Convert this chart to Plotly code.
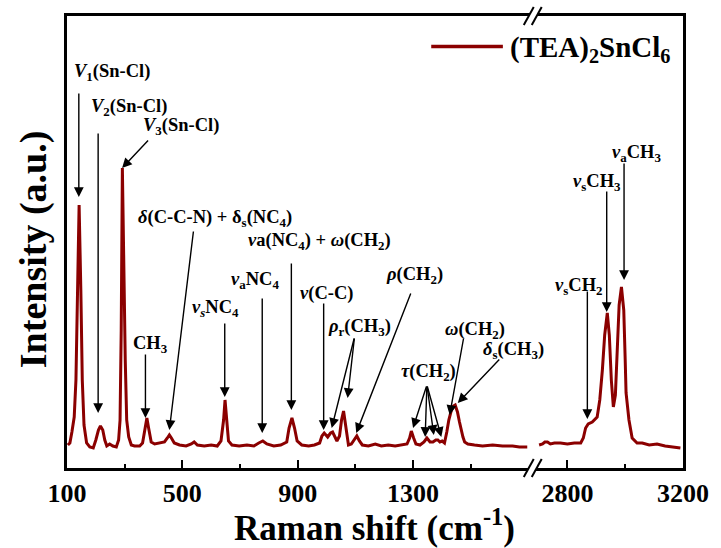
import plotly.graph_objects as go

# ---- data ----
# low-wavenumber segment (cm-1) and intensity (a.u.)
wn_low = [103, 110, 117, 125, 131, 136, 142, 148, 153, 159, 168, 179, 191, 200, 209, 216, 224, 231, 238, 248,
          259, 271, 279, 284, 288, 292, 296, 302, 307, 314, 323, 334, 352, 362, 371, 377, 383, 392, 404, 421,
          438, 448, 455, 462, 472, 490, 513, 531, 541, 552, 576, 600, 621, 634, 643, 648, 653, 660, 672, 697,
          724, 748, 765, 779, 793, 817, 841, 862, 870, 880, 889, 898, 914, 938, 958, 976, 984, 992, 1004, 1014,
          1021, 1029, 1036, 1045, 1052, 1059, 1066, 1076, 1086, 1097, 1105, 1114, 1124, 1145, 1169, 1190, 1214,
          1238, 1262, 1279, 1288, 1294, 1302, 1310, 1324, 1338, 1348, 1359, 1369, 1379, 1386, 1393, 1401, 1409,
          1417, 1424, 1433, 1440, 1446, 1454, 1461, 1467, 1473, 1479, 1490, 1513, 1541, 1576, 1610, 1645, 1669, 1696]
int_low = [23, 25, 36, 51, 88, 178, 263, 178, 88, 43, 25, 21, 20, 28, 38, 42, 38, 28, 22, 24,
           22, 21, 28, 48, 138, 300, 218, 108, 48, 31, 23, 22, 22, 25, 40, 50, 40, 26, 24, 25,
           26, 30, 33, 30, 25, 23, 22, 24, 26, 23, 22, 23, 22, 27, 48, 68, 48, 27, 23, 22,
           23, 22, 25, 27, 24, 22, 23, 26, 40, 50, 40, 27, 23, 22, 23, 25, 32, 35, 31, 35,
           36, 32, 27, 32, 48, 57, 43, 23, 24, 28, 32, 27, 23, 22, 24, 22, 23,
           22, 23, 24, 30, 37, 30, 24, 23, 26, 30, 26, 26, 28, 28, 26, 27, 25,
           36, 48, 58, 62, 63, 56, 46, 38, 31, 26, 24, 23, 22, 23, 22, 22, 21, 21]

# high-wavenumber segment
wn_high = [2702, 2714, 2722, 2731, 2741, 2755, 2776, 2800, 2824, 2846, 2855, 2863, 2872, 2886, 2903, 2912,
           2921, 2929, 2938, 2945, 2952, 2959, 2966, 2972, 2979, 2987, 2995, 3000, 3003, 3013, 3024, 3041,
           3059, 3083, 3110, 3138, 3165, 3191]
int_high = [23, 24, 26, 26, 24, 25, 25, 24, 25, 25, 30, 40, 44, 46, 51, 68,
            98, 133, 155, 133, 88, 61, 73, 118, 163, 181, 158, 108, 75, 48, 30, 25,
            25, 23, 24, 22, 21, 20]

low_ticks = [100, 500, 900, 1300]
low_minor = [300, 700, 1100, 1500]
high_ticks = [2800, 3200]
high_minor = [3000]

series_name = "(TEA)<sub>2</sub>SnCl<sub>6</sub>"
color = "#8B0000"
FONT = "Liberation Serif"

# ---- layout geometry ----
W, H = 721, 548
ML, MR, MT, MB = 67, 35, 16, 80
PW = W - ML - MR
PH = H - MT - MB
split = 468 / PW  # break position in paper coordinates

fig = go.Figure()
fig.add_trace(go.Scatter(x=wn_low, y=int_low, mode="lines", line=dict(color=color, width=3),
                         xaxis="x", yaxis="y", showlegend=False, name=series_name))
fig.add_trace(go.Scatter(x=wn_high, y=int_high, mode="lines", line=dict(color=color, width=3),
                         xaxis="x2", yaxis="y2", showlegend=False, name=series_name))

tickfont = dict(family=FONT, size=26, color="black")
axis_common = dict(showline=True, linecolor="black", linewidth=3, ticks="inside", ticklen=8,
                   tickwidth=2, tickcolor="black", showgrid=False, zeroline=False,
                   tickfont=tickfont, mirror=True)

fig.update_layout(
    width=W, height=H, margin=dict(l=ML, r=MR, t=MT, b=MB),
    paper_bgcolor="white", plot_bgcolor="white",
    xaxis=dict(domain=[0, split], range=[100, 1715], tickvals=low_ticks,
               ticktext=[f"<b>{v}</b>" for v in low_ticks],
               minor=dict(tickvals=low_minor, ticks="inside", ticklen=4, tickwidth=2, tickcolor="black"),
               anchor="y", **axis_common),
    xaxis2=dict(domain=[split, 1], range=[2680, 3200], tickvals=high_ticks,
                ticktext=[f"<b>{v}</b>" for v in high_ticks],
                minor=dict(tickvals=high_minor, ticks="inside", ticklen=4, tickwidth=2, tickcolor="black"),
                anchor="y2", **axis_common),
    yaxis=dict(range=[0, 452], showline=True, linecolor="black", linewidth=3, ticks="",
               showticklabels=False, showgrid=False, zeroline=False, anchor="x"),
    yaxis2=dict(range=[0, 452], showline=True, linecolor="black", linewidth=3, ticks="",
                showticklabels=False, showgrid=False, zeroline=False, anchor="x2", side="right"),
    showlegend=False,
)

def px(xp):
    return (xp - ML) / PW

def py(yp):
    return 1 - (yp - MT) / PH

# axis titles as annotations (shared across the broken axis)
fig.add_annotation(text="<b>Raman shift (cm<sup>-1</sup>)</b>", xref="paper", yref="paper",
                   x=px(376), y=py(525), showarrow=False,
                   font=dict(family=FONT, size=35, color="black"), xanchor="center", yanchor="middle")
fig.add_annotation(text="<b>Intensity (a.u.)</b>", xref="paper", yref="paper",
                   x=px(33), y=py(249), showarrow=False, textangle=-90,
                   font=dict(family=FONT, size=38, color="black"), xanchor="center", yanchor="middle")

# manual legend
fig.add_shape(type="line", xref="paper", yref="paper",
              x0=px(433), x1=px(505), y0=py(46.5), y1=py(46.5),
              line=dict(color=color, width=3.5))
fig.add_annotation(text=f"<b>{series_name}</b>", xref="paper", yref="paper",
                   x=px(510), y=py(49), showarrow=False, xanchor="left",
                   yanchor="middle", font=dict(family=FONT, size=29, color="black"))

# axis-break marks
for yb in (16, 468):
    bx = 535
    path = (f"M {px(bx-9)},{py(yb+8)} L {px(bx+1)},{py(yb-8)} L {px(bx+9)},{py(yb-8)} "
            f"L {px(bx-1)},{py(yb+8)} Z")
    fig.add_shape(type="path", xref="paper", yref="paper", path=path,
                  fillcolor="white", line=dict(width=0), layer="above")
    for off in (-4, 4):
        cx = bx + off
        fig.add_shape(type="line", xref="paper", yref="paper",
                      x0=px(cx - 5), y0=py(yb + 9), x1=px(cx + 5), y1=py(yb - 9),
                      line=dict(color="black", width=2), layer="above")

# peak labels (text)
labels = [
    ("x", 116, 396, "<i>V</i><sub>1</sub>(Sn-Cl)"),
    ("x", 177, 361, "<i>V</i><sub>2</sub>(Sn-Cl)"),
    ("x", 358, 342, "<i>V</i><sub>3</sub>(Sn-Cl)"),
    ("x", 340, 250, "<i>δ</i>(C-C-N) + δ<sub>s</sub>(NC<sub>4</sub>)"),
    ("x", 720, 227, "<i>v</i>a(NC<sub>4</sub>) + <i>ω</i>(CH<sub>2</sub>)"),
    ("x", 662, 188, "<i>v</i><sub>a</sub>NC<sub>4</sub>"),
    ("x", 528, 160, "<i>v<sub>s</sub></i>NC<sub>4</sub>"),
    ("x", 321, 124, "CH<sub>3</sub>"),
    ("x", 900, 175, "<i>v</i>(C-C)"),
    ("x", 999, 141, "<i>ρ</i><sub>r</sub>(CH<sub>3</sub>)"),
    ("x", 1200, 193, "<i>ρ</i>(CH<sub>2</sub>)"),
    ("x", 1251, 96, "<i>τ</i>(CH<sub>2</sub>)"),
    ("x", 1403, 138, "<i>ω</i>(CH<sub>2</sub>)"),
    ("x", 1535, 118, "<i>δ</i><sub>s</sub>(CH<sub>3</sub>)"),
    ("x2", 2749, 182, "<i>v</i><sub>s</sub>CH<sub>2</sub>"),
    ("x2", 2812, 286, "<i>v</i><sub>s</sub>CH<sub>3</sub>"),
    ("x2", 2946, 315, "<i>v</i><sub>a</sub>CH<sub>3</sub>"),
]
for xr, x, y, t in labels:
    yr = "y" if xr == "x" else "y2"
    fig.add_annotation(text=f"<b>{t}</b>", xref=xr, yref=yr, x=x, y=y, showarrow=False,
                       xanchor="left", yanchor="middle", font=dict(family=FONT, size=18.5, color="black"))

# arrows: (axis, tail x, tail y, head x, head y)
arrows = [
    ("x", 141, 376, 141, 271),
    ("x", 208, 336, 208, 55),
    ("x", 386, 329, 291, 300),
    ("x", 539, 238, 455, 38),
    ("x", 878, 206, 878, 58),
    ("x", 777, 171, 777, 35),
    ("x", 647, 146, 647, 71),
    ("x", 372, 115, 372, 50),
    ("x", 990, 166, 990, 38),
    ("x", 1097, 131, 1018, 40),
    ("x", 1097, 131, 1073, 70),
    ("x", 1294, 176, 1103, 35),
    ("x", 1348, 83, 1300, 40),
    ("x", 1348, 83, 1342, 31),
    ("x", 1348, 83, 1372, 33),
    ("x", 1348, 83, 1398, 31),
    ("x", 1476, 131, 1427, 53),
    ("x", 1604, 110, 1455, 65),
    ("x2", 2869, 178, 2869, 49),
    ("x2", 2936, 278, 2936, 156),
    ("x2", 2996, 306, 2996, 188),
]
for xr, ax, ay, x, y in arrows:
    yr = "y" if xr == "x" else "y2"
    fig.add_annotation(text="", xref=xr, yref=yr, axref=xr, ayref=yr, x=x, y=y, ax=ax, ay=ay,
                       showarrow=True, arrowhead=2, arrowsize=1.4, arrowwidth=1.4, arrowcolor="black",
                       standoff=0, startstandoff=0)

fig.write_html("out.html")
